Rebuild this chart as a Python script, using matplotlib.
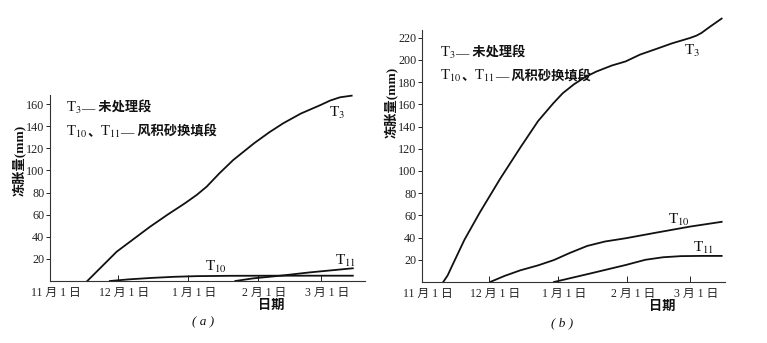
import matplotlib
matplotlib.use("Agg")
import matplotlib.pyplot as plt
from matplotlib.transforms import ScaledTranslation
from matplotlib.offsetbox import TextArea, HPacker, AnnotationBbox

plt.rcParams['font.family'] = ['Liberation Serif', 'DejaVu Serif', 'Noto Sans CJK SC']
plt.rcParams['mathtext.fontset'] = 'stix'

# x values are days counted from 1 November
date_ticks = [0, 30, 61, 92, 120]
date_labels = ['11 月 1 日', '12 月 1 日', '1 月 1 日', '2 月 1 日', '3 月 1 日']

# (a) frost heave, mm
a_t3_day = [16.5, 29.5, 44.2, 52, 59.7, 65, 69.3, 75, 81.1, 90.3, 97, 103.2, 111, 119.8, 124, 128.3, 133.5]
a_t3_val = [0, 26.5, 49, 60, 70.3, 78, 85.3, 97.5, 109.5, 124.6, 134.5, 142.7, 151.5, 159.3, 163.3, 166.2, 167.7]
a_t10_day = [26.5, 35, 45, 55, 65, 80, 100, 134]
a_t10_val = [0, 1.5, 2.8, 3.8, 4.4, 4.7, 4.8, 4.8]
a_t11_day = [82, 90, 102, 115, 134]
a_t11_val = [0, 2.4, 4.8, 7.8, 11.5]
a_yticks = [20, 40, 60, 80, 100, 120, 140, 160]

# (b) frost heave, mm
b_t3_day = [9.5, 11.5, 13.3, 19, 26, 35, 44, 52, 58.8, 63, 68, 73, 78, 85, 91.2, 97.6, 105, 112, 120, 123, 125.2, 129, 134.2]
b_t3_val = [0, 6, 13.8, 38, 63, 93, 121, 145, 161, 170, 178, 184.5, 189.5, 195, 198.7, 204.8, 210, 215, 219.8, 222, 224.4, 230, 237.3]
b_t10_day = [30.5, 37, 44, 52, 59.1, 66, 74, 82, 91.2, 105, 120, 134.2]
b_t10_val = [0, 5.5, 10.5, 15, 19.8, 26, 32.5, 36.5, 39.4, 44.5, 49.9, 54.2]
b_t11_day = [59.1, 75, 91.2, 100, 108, 116, 125, 134.2]
b_t11_val = [0, 7.5, 15.3, 20, 22.3, 23.3, 23.5, 23.5]
b_yticks = [20, 40, 60, 80, 100, 120, 140, 160, 180, 200, 220]

W, H = 767, 343
fig = plt.figure(figsize=(W / 100, H / 100), dpi=100)
INK = '#111111'


def px_axes(x0, x1, y_top, y_bot):
    return fig.add_axes([x0 / W, 1 - y_bot / H, (x1 - x0) / W, (y_bot - y_top) / H])


def style(ax, xmax, ymax, yticks):
    ax.set_xlim(0, xmax)
    ax.set_ylim(0, ymax)
    for s in ('top', 'right'):
        ax.spines[s].set_visible(False)
    for s in ('left', 'bottom'):
        ax.spines[s].set_linewidth(0.8)
        ax.spines[s].set_color('#333333')
    ax.set_xticks(date_ticks)
    ax.set_xticklabels(date_labels, fontsize=8.5)
    ax.set_yticks(yticks)
    ax.set_yticklabels([str(v) for v in yticks], fontsize=8.7)
    ax.tick_params(axis='x', direction='in', length=4, width=0.7, pad=4, colors='#222222')
    ax.tick_params(axis='y', direction='out', length=3, width=0.7, pad=1, colors='#222222')
    shift = ScaledTranslation(6 / 100, 0, fig.dpi_scale_trans)
    for lab in ax.get_xticklabels():
        lab.set_transform(lab.get_transform() + shift)


def key_line(ax, x, y, parts):
    # parts alternate between subscripted T labels (mathtext) and CJK runs
    areas = []
    for p in parts:
        if p.startswith('T$'):
            props = dict(fontsize=10.5, color=INK)
        elif p == '—':
            props = dict(fontsize=9.5, color=INK)
        else:
            props = dict(fontsize=9.5, color=INK, fontweight='bold')
        areas.append(TextArea(p, textprops=props))
    box = HPacker(children=areas, align='baseline', pad=0, sep=0)
    ab = AnnotationBbox(box, (x, y), xycoords='data', box_alignment=(0, 0.5),
                        frameon=False, pad=0)
    ax.add_artist(ab)


line_kw = dict(color=INK, lw=1.3, clip_on=False)
lab_kw = dict(fontsize=11, ha='center', va='center', color=INK)

# panel (a)
ax_a = px_axes(50, 365, 95, 281)
style(ax_a, 139.4, 168.3, a_yticks)
ax_a.plot(a_t3_day, a_t3_val, **line_kw)
ax_a.plot(a_t10_day, a_t10_val, **line_kw)
ax_a.plot(a_t11_day, a_t11_val, **line_kw)
ax_a.text(127, 152, 'T$_3$', **lab_kw)
ax_a.text(73.5, 12.7, 'T$_{10}$', **lab_kw)
ax_a.text(131, 18, 'T$_{11}$', **lab_kw)
key_line(ax_a, 7, 156.6, ['T$_3$', '—', ' 未处理段'])
key_line(ax_a, 7, 135, ['T$_{10}$', '、', 'T$_{11}$', '—', ' 风积砂换填段'])

# panel (b)
ax_b = px_axes(422, 725, 30, 282)
style(ax_b, 135.7, 227, b_yticks)
ax_b.plot(b_t3_day, b_t3_val, **line_kw)
ax_b.plot(b_t10_day, b_t10_val, **line_kw)
ax_b.plot(b_t11_day, b_t11_val, **line_kw)
ax_b.text(121, 208.4, 'T$_3$', **lab_kw)
ax_b.text(115, 56, 'T$_{10}$', **lab_kw)
ax_b.text(126.3, 30.7, 'T$_{11}$', **lab_kw)
key_line(ax_b, 8, 206.3, ['T$_3$', '—', ' 未处理段'])
key_line(ax_b, 8, 185.2, ['T$_{10}$', '、', 'T$_{11}$', '—', ' 风积砂换填段'])


# axis titles and panel captions
def ftext(x, y, s, **kw):
    fig.text(x / W, 1 - y / H, s, ha='center', va='center', color=INK, **kw)


ftext(19, 160, '冻胀量(mm)', rotation=90, fontsize=9.5, fontweight='bold')
ftext(391, 102, '冻胀量(mm)', rotation=90, fontsize=9.5, fontweight='bold')
ftext(271, 306, '日期', fontsize=9.5, fontweight='bold')
ftext(662, 307, '日期', fontsize=9.5, fontweight='bold')
ftext(203, 322, '( a )', fontsize=9.5, style='italic')
ftext(562, 323, '( b )', fontsize=9.5, style='italic')

fig.savefig('out.png', dpi=100, facecolor='white')
